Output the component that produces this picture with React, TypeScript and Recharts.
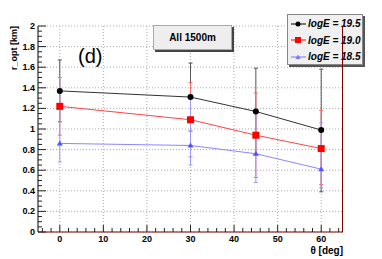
import { LineChart, Line, XAxis, YAxis, CartesianGrid, ErrorBar } from "recharts"

// theta [deg]
const theta = [0, 30, 45, 60]

// r_opt [km] per energy
const r195 = [1.37, 1.31, 1.17, 0.99]
const r190 = [1.22, 1.09, 0.94, 0.81]
const r185 = [0.86, 0.84, 0.76, 0.61]

// errors [down, up]
const e195 = [[0.3, 0.3], [0.33, 0.33], [0.42, 0.42], [0.6, 0.59]]
const e190 = [[0.28, 0.28], [0.36, 0.36], [0.41, 0.41], [0.35, 0.37]]
const e185 = [[0.18, 0.64], [0.19, 0.49], [0.28, 0.4], [0.18, 0.45]]

const xMajor = [0, 10, 20, 30, 40, 50, 60]
const yMajor = [0, 0.2, 0.4, 0.6, 0.8, 1, 1.2, 1.4, 1.6, 1.8, 2]
const xTicks = Array.from({ length: 35 }, (_, i) => -4 + i * 2)
const yTicks = Array.from({ length: 41 }, (_, i) => Math.round(i * 5) / 100)

const legendItems = [
  { name: "logE = 19.5", color: "#000000", shape: "circle" },
  { name: "logE = 19.0", color: "#ff0000", shape: "square" },
  { name: "logE = 18.5", color: "#7777ff", shape: "triangle" },
]

const data = theta.map((t, i) => ({
  theta: t,
  r195: r195[i],
  r190: r190[i],
  r185: r185[i],
  e195: e195[i],
  e190: e190[i],
  e185: e185[i],
}))

const font = "'Liberation Sans', Arial, sans-serif"

const XTick = (props: any) => {
  const { x, y, payload } = props
  const v = payload.value
  const major = xMajor.includes(v)
  return (
    <g>
      <line x1={x} x2={x} y1={y} y2={y - (major ? 7 : 4)} stroke="#222" />
      {major && (
        <text x={x} y={y + 10} textAnchor="middle" fontSize={9} fontWeight="bold" fontFamily={font} fill="#000">
          {v}
        </text>
      )}
    </g>
  )
}

const YTick = (props: any) => {
  const { x, y, payload } = props
  const v = payload.value
  const major = yMajor.some(m => Math.abs(m - v) < 1e-6)
  return (
    <g>
      <line x1={x} x2={x + (major ? 8 : 4)} y1={y} y2={y} stroke="#222" />
      {major && (
        <text x={x - 3} y={y + 3} textAnchor="end" fontSize={9} fontWeight="bold" fontFamily={font} fill="#000">
          {Math.round(v * 10) / 10}
        </text>
      )}
    </g>
  )
}

const Square = (props: any) => (
  <rect key={props.index} x={props.cx - 3.5} y={props.cy - 3.5} width={7} height={7} fill="#ff0000" />
)
const Triangle = (props: any) => (
  <path key={props.index} d={`M${props.cx},${props.cy - 3} L${props.cx + 3},${props.cy + 2} L${props.cx - 3},${props.cy + 2} Z`} fill="#5555ff" />
)

const Marker = ({ shape, color }: { shape: string; color: string }) => {
  if (shape === "circle") return <circle cx={8} cy={4} r={2.5} fill={color} />
  if (shape === "square") return <rect x={5} y={1} width={6} height={6} fill={color} />
  return <path d="M8,1.5 L10.5,6 L5.5,6 Z" fill={color} />
}

const LegendBox = () => (
  <div style={{ position: "absolute", left: 287, top: 14, width: 78, height: 53 }}>
    <div style={{ position: "absolute", left: 2, top: 2, width: 76, height: 51, background: "#555" }} />
    <div
      style={{
        position: "absolute", left: 0, top: 0, width: 74, height: 49,
        background: "#f0f0f0", border: "1px solid #888",
      }}
    >
      {legendItems.map((it, i) => (
        <div key={it.name} style={{ position: "absolute", left: 2, top: 3 + i * 16.5, display: "flex", alignItems: "center" }}>
          <svg width={17} height={8}>
            <line x1={1} x2={16} y1={4} y2={4} stroke={it.color} strokeWidth={1} />
            <Marker shape={it.shape} color={it.color} />
          </svg>
          <span style={{ fontFamily: font, fontSize: 10, fontWeight: "bold", fontStyle: "italic", color: "#000", marginLeft: 1 }}>
            {it.name}
          </span>
        </div>
      ))}
    </div>
  </div>
)

export default function App() {
  return (
    <div style={{ position: "absolute", left: 0, top: 0, width: 382, height: 259, background: "#fff" }}>
      <LineChart width={382} height={259} data={data} margin={{ top: 26, right: 39, bottom: 0, left: 0 }}>
        <CartesianGrid
          stroke="#aaa"
          strokeDasharray="1 2"
          verticalValues={xMajor}
          horizontalValues={yMajor}
        />
        <XAxis
          dataKey="theta"
          type="number"
          domain={[-5, 65]}
          ticks={xTicks}
          interval={0}
          tickSize={0}
          tickMargin={0}
          tick={<XTick />}
          height={27}
          stroke="#800000"
          label={({ viewBox }: any) => (
            <text x={viewBox.x + viewBox.width} y={viewBox.y + 22} textAnchor="end" fontSize={10} fontWeight="bold" fontFamily={font} fill="#000">
              θ [deg]
            </text>
          )}
        />
        <YAxis
          type="number"
          domain={[0, 2]}
          ticks={yTicks}
          interval={0}
          tickSize={0}
          tickMargin={0}
          tick={<YTick />}
          width={38}
          stroke="#000"
          label={({ viewBox }: any) => (
            <text transform={`translate(17, ${viewBox.y}) rotate(-90)`} textAnchor="end" fontSize={9} fontWeight="bold" fontFamily={font} fill="#000">
              r_opt [km]
            </text>
          )}
        />
        <Line dataKey="r195" stroke="#333" strokeWidth={1} dot={{ r: 3, fill: "#000", stroke: "none" }} isAnimationActive={false}>
          <ErrorBar dataKey="e195" stroke="#555" width={2} strokeWidth={1} />
        </Line>
        <Line dataKey="r190" stroke="#ff4444" strokeWidth={1} dot={<Square />} isAnimationActive={false}>
          <ErrorBar dataKey="e190" stroke="#ff6666" width={2} strokeWidth={1} />
        </Line>
        <Line dataKey="r185" stroke="#8888ff" strokeWidth={1} dot={<Triangle />} isAnimationActive={false}>
          <ErrorBar dataKey="e185" stroke="#9999ff" width={2} strokeWidth={1} />
        </Line>
      </LineChart>
      <LegendBox />
      <div
        style={{
          position: "absolute", left: 78, top: 44, fontFamily: font, fontSize: 20, color: "#000", lineHeight: "24px",
        }}
      >
        (d)
      </div>
      <div style={{ position: "absolute", left: 155, top: 27, width: 79, height: 25, background: "#444" }} />
      <div
        style={{
          position: "absolute", left: 153, top: 25, width: 77, height: 23, background: "#eeeeee", border: "1px solid #aaa",
          fontFamily: font, fontSize: 10, fontWeight: "bold", color: "#000", textAlign: "center", lineHeight: "23px",
        }}
      >
        All 1500m
      </div>
      <div style={{ position: "absolute", left: 342, top: 26, width: 1, height: 206, background: "#800000" }} />
    </div>
  )
}
